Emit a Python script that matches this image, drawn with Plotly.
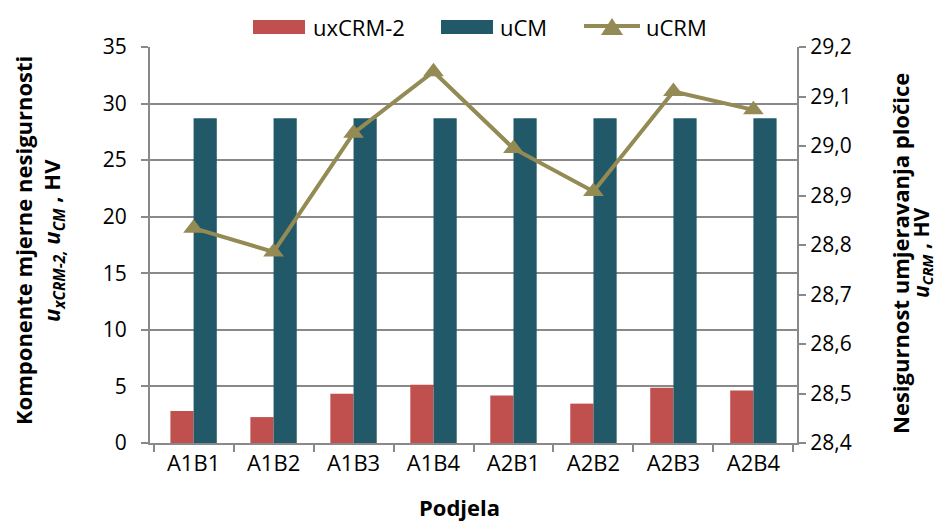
import plotly.graph_objects as go

categories = ["A1B1", "A1B2", "A1B3", "A1B4", "A2B1", "A2B2", "A2B3", "A2B4"]
uxCRM2 = [2.83, 2.29, 4.35, 5.15, 4.2, 3.48, 4.88, 4.64]
uCM = [28.7, 28.7, 28.7, 28.7, 28.7, 28.7, 28.7, 28.7]
uCRM = [28.834, 28.786, 29.026, 29.15, 28.995, 28.908, 29.11, 29.073]
series_names = ["uxCRM-2", "uCM", "uCRM"]

FONT = "'Open Sans', sans-serif"
GRID = "#898989"
RED = "#C0504D"
BLUE = "#215968"
OLIVE = "#948A54"

# page body has an 8px margin; work in screenshot pixels and shift
OFF = 8
W, H = 944 - OFF, 523 - OFF
L, R, T, B = 150 - OFF, 944 - 797, 47 - OFF, 523 - 443
PW, PH = W - L - R, H - T - B


def px(x):
    return (x - OFF - L) / PW


def py(y):
    return (H - B - (y - OFF)) / PH


def note(text, x, y, size, angle=0, xanchor="center"):
    return dict(text=text, xref="paper", yref="paper", x=px(x), y=py(y),
                textangle=angle, xanchor=xanchor, yanchor="middle",
                showarrow=False, font=dict(size=size))


fig = go.Figure()
fig.add_trace(go.Bar(name=series_names[0], x=categories, y=uxCRM2,
                     marker=dict(color=RED, line=dict(width=0))))
fig.add_trace(go.Bar(name=series_names[1], x=categories, y=uCM,
                     marker=dict(color=BLUE, line=dict(width=0))))
fig.add_trace(go.Scatter(name=series_names[2], x=categories, y=uCRM, yaxis="y2",
                         mode="lines+markers",
                         line=dict(color=OLIVE, width=4),
                         marker=dict(symbol="triangle-up", size=18, color=OLIVE)))

# custom legend (wide rectangles like the reference)
shapes = [
    dict(type="rect", xref="paper", yref="paper", x0=px(253), x1=px(305), y0=py(34), y1=py(20),
         fillcolor=RED, line=dict(width=0)),
    dict(type="rect", xref="paper", yref="paper", x0=px(441), x1=px(493), y0=py(34), y1=py(20),
         fillcolor=BLUE, line=dict(width=0)),
    dict(type="line", xref="paper", yref="paper", x0=px(584), x1=px(640), y0=py(26), y1=py(26),
         line=dict(color=OLIVE, width=4)),
    dict(type="path", xref="paper", yref="paper",
         path=f"M {px(601)},{py(35)} L {px(623)},{py(35)} L {px(612)},{py(18)} Z",
         fillcolor=OLIVE, line=dict(width=0)),
]
annotations = [
    note(series_names[0], 311, 27, 22, xanchor="left"),
    note(series_names[1], 498, 27, 22, xanchor="left"),
    note(series_names[2], 644, 27, 22, xanchor="left"),
    # left axis title (two lines)
    note("<b>Komponente mjerne nesigurnosti</b>", 23, 241, 22, angle=-90),
    note("<b><i>u</i><sub><i>xCRM-2,</i></sub> <i>u</i><sub><i>CM</i></sub> , HV</b>", 53, 240, 22, angle=-90),
    # right axis title (two lines)
    note("<b>Nesigurnost umjeravanja pločice</b>", 900, 254, 22, angle=-90),
    note("<b><i>u</i><sub><i>CRM</i></sub> , HV</b>", 922, 253, 21, angle=-90),
    # x axis title
    note("<b>Podjela</b>", 459, 507, 22),
]

fig.update_layout(
    width=W, height=H,
    margin=dict(l=L, r=R, t=T, b=B, autoexpand=False),
    paper_bgcolor="white", plot_bgcolor="white",
    separators=",.",
    barmode="group", bargap=0.42, bargroupgap=0,
    font=dict(family=FONT, size=22, color="black"),
    showlegend=False,
    shapes=shapes,
    annotations=annotations,
    xaxis=dict(
        showgrid=False, showline=True, linecolor=GRID, linewidth=2,
        ticks="outside", ticklen=7, tickcolor=GRID, tickwidth=2, tickson="boundaries",
        tickfont=dict(size=22), automargin=False,
    ),
    yaxis=dict(
        range=[0, 35], dtick=5, tick0=0,
        showgrid=True, gridcolor=GRID, gridwidth=2,
        showline=True, linecolor=GRID, linewidth=2,
        ticks="outside", ticklen=7, tickcolor=GRID, tickwidth=2,
        ticklabelstandoff=10,
        tickfont=dict(size=21), zeroline=False, automargin=False,
    ),
    yaxis2=dict(
        overlaying="y", side="right",
        range=[28.4, 29.2], dtick=0.1, tick0=28.4, tickformat=".1f",
        showgrid=False, showline=True, linecolor=GRID, linewidth=2,
        ticks="outside", ticklen=7, tickcolor=GRID, tickwidth=2, zeroline=False,
        tickfont=dict(size=21), automargin=False,
    ),
)

fig.write_html("out.html")
